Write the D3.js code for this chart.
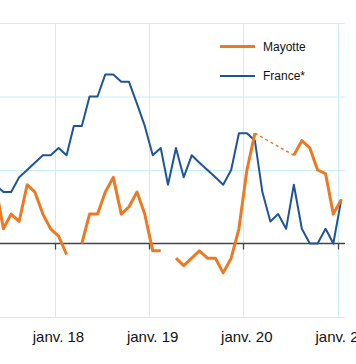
<!DOCTYPE html>
<html>
<head>
<meta charset="utf-8">
<script src="https://cdn.jsdelivr.net/npm/d3@7"></script>
<style>
  html, body { margin: 0; padding: 0; background: #fff; }
  svg { display: block; }
  text { font-family: "Liberation Sans", Arial, Helvetica, sans-serif; fill: #111; }
</style>
</head>
<body>
<div id="chart"></div>
<script>
// Monthly data, May 2017 – Jan 2021 (values in %)
const months = [
  "2017-05","2017-06","2017-07","2017-08","2017-09","2017-10","2017-11","2017-12",
  "2018-01","2018-02","2018-03","2018-04","2018-05","2018-06","2018-07","2018-08","2018-09","2018-10","2018-11","2018-12",
  "2019-01","2019-02","2019-03","2019-04","2019-05","2019-06","2019-07","2019-08","2019-09","2019-10","2019-11","2019-12",
  "2020-01","2020-02","2020-03","2020-04","2020-05","2020-06","2020-07","2020-08","2020-09","2020-10","2020-11","2020-12",
  "2021-01"
];
const mayotte = [
  0.8, 0.2, 0.4, 0.3, 0.8, 0.7, 0.4, 0.2,
  0.1, -0.15, null, 0.0, 0.4, 0.4, 0.7, 0.9, 0.4, 0.5, 0.7, 0.4,
  -0.1, -0.1, null, -0.2, -0.3, -0.2, -0.1, -0.2, -0.2, -0.4, -0.2, 0.2,
  1.0, 1.5, null, null, null, null, 1.2, 1.4, 1.3, 1.0, 0.95, 0.4,
  0.6
];
const france = [
  0.8, 0.7, 0.7, 0.9, 1.0, 1.1, 1.2, 1.2,
  1.3, 1.2, 1.6, 1.6, 2.0, 2.0, 2.3, 2.3, 2.2, 2.2, 1.9, 1.6,
  1.2, 1.3, 0.8, 1.3, 0.9, 1.2, 1.1, 1.0, 0.9, 0.8, 1.0, 1.5,
  1.5, 1.4, 0.7, 0.3, 0.4, 0.2, 0.8, 0.2, 0.0, 0.0, 0.2, 0.0,
  0.6
];
const yTicks = [-1, 0, 1, 2, 3];
const xTickDates = ["2018-01-01", "2019-01-01", "2020-01-01", "2021-01-01"];
const xTickLabels = ["janv. 18", "janv. 19", "janv. 20", "janv. 21"];
const seriesNames = ["Mayotte", "France*"];

const W = 356, H = 364;
const colOrange = "#ec7a23", colBlue = "#1f5597", colGrid = "#c9eef9";

const parseM = d3.timeParse("%Y-%m");
const parseD = d3.timeParse("%Y-%m-%d");
const dates = months.map(m => d3.timeDay.offset(parseM(m), 14));

const x = d3.scaleTime()
  .domain([parseD("2018-01-01"), parseD("2021-01-01")])
  .range([55, 337.7]);
const y = d3.scaleLinear().domain([-1, 3]).range([317, 23]);
const plotLeft = 0, plotRight = 345;

const svg = d3.select("#chart").append("svg").attr("width", W).attr("height", H);

svg.append("defs").append("clipPath").attr("id", "clip")
  .append("rect").attr("x", plotLeft).attr("y", 0).attr("width", plotRight - plotLeft).attr("height", H);

// horizontal gridlines
svg.append("g").selectAll("line").data(yTicks.filter(t => t !== 0)).join("line")
  .attr("x1", plotLeft).attr("x2", plotRight)
  .attr("y1", d => y(d) + 0.5).attr("y2", d => y(d) + 0.5)
  .attr("stroke", colGrid).attr("stroke-width", 1);

// vertical gridlines
svg.append("g").selectAll("line").data(xTickDates).join("line")
  .attr("x1", d => Math.round(x(parseD(d))) + 0.5).attr("x2", d => Math.round(x(parseD(d))) + 0.5)
  .attr("y1", y(3)).attr("y2", y(-1))
  .attr("stroke", colGrid).attr("stroke-width", 1);

// zero axis with ticks
const axisG = svg.append("g");
axisG.append("line")
  .attr("x1", plotLeft).attr("x2", plotRight)
  .attr("y1", y(0)).attr("y2", y(0))
  .attr("stroke", "#444").attr("stroke-width", 1.3);
axisG.selectAll("line.tk").data(xTickDates).join("line").attr("class", "tk")
  .attr("x1", d => Math.round(x(parseD(d))) + 0.5).attr("x2", d => Math.round(x(parseD(d))) + 0.5)
  .attr("y1", y(0)).attr("y2", y(0) + 6)
  .attr("stroke", "#444").attr("stroke-width", 1.3);

// x labels
svg.append("g").selectAll("text").data(xTickDates).join("text")
  .attr("x", d => x(parseD(d)) + 3.5)
  .attr("y", 342)
  .attr("text-anchor", "middle")
  .style("font-size", "15px")
  .text((d, i) => xTickLabels[i]);

const pts = (vals) => dates.map((d, i) => ({ d, v: vals[i] }));
const line = d3.line()
  .defined(p => p.v !== null)
  .x(p => x(p.d)).y(p => y(p.v));

const g = svg.append("g").attr("clip-path", "url(#clip)");

// dotted connection across Mayotte gaps of more than one month
const mPts = pts(mayotte);
const valid = mPts.filter(p => p.v !== null);
for (let i = 1; i < valid.length; i++) {
  const gapMonths = d3.timeMonth.count(valid[i - 1].d, valid[i].d);
  if (gapMonths > 2) {
    g.append("path")
      .datum([valid[i - 1], valid[i]])
      .attr("d", d3.line().x(p => x(p.d)).y(p => y(p.v)))
      .attr("fill", "none").attr("stroke", colOrange)
      .attr("stroke-width", 1.5).attr("stroke-dasharray", "3,3");
  }
}

g.append("path").datum(pts(france))
  .attr("d", line)
  .attr("fill", "none").attr("stroke", colBlue)
  .attr("stroke-width", 2).attr("stroke-linejoin", "round");

g.append("path").datum(mPts)
  .attr("d", line)
  .attr("fill", "none").attr("stroke", colOrange)
  .attr("stroke-width", 3).attr("stroke-linejoin", "round");

// legend
const legend = svg.append("g");
const legendItems = [
  { name: seriesNames[0], color: colOrange, w: 3, y: 46.5 },
  { name: seriesNames[1], color: colBlue, w: 2, y: 76 }
];
legendItems.forEach(it => {
  legend.append("line").attr("x1", 220).attr("x2", 255)
    .attr("y1", it.y).attr("y2", it.y)
    .attr("stroke", it.color).attr("stroke-width", it.w);
  legend.append("text").attr("x", 263).attr("y", it.y)
    .attr("dy", "0.35em").style("font-size", "12px").text(it.name);
});
</script>
</body>
</html>
